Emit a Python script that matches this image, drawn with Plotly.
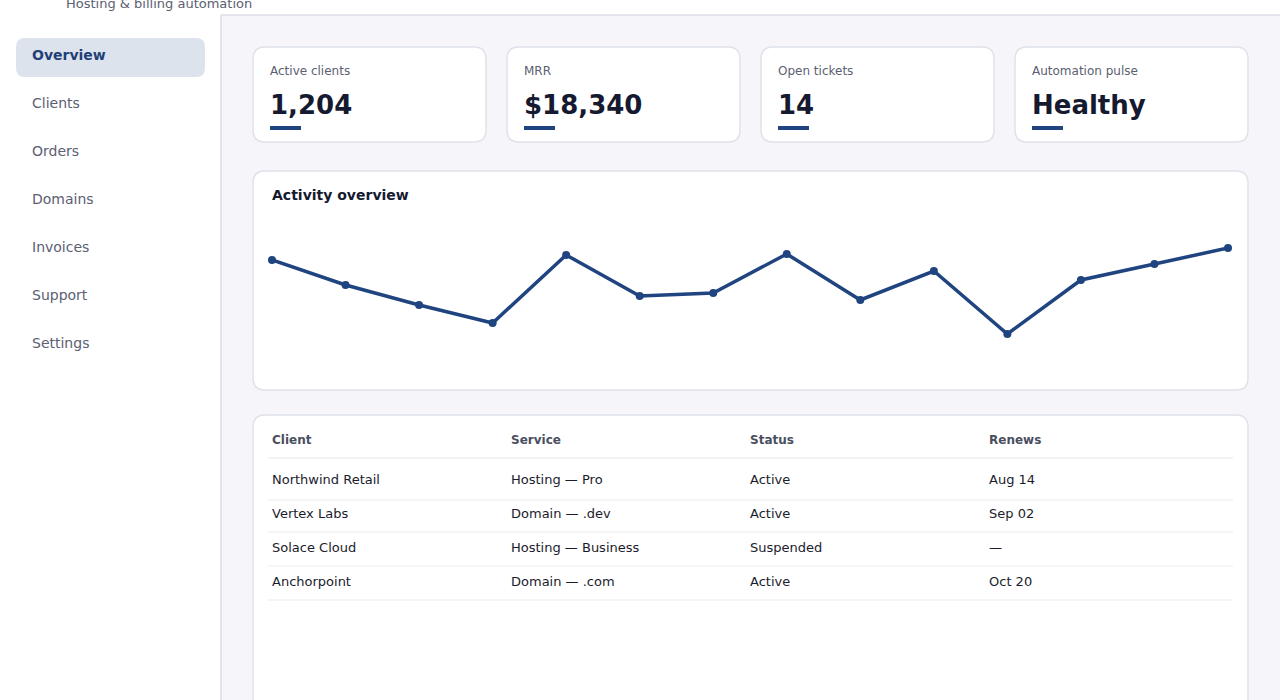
import plotly.graph_objects as go

W, H = 1280, 700

# sidebar
nav_items = ["Overview", "Clients", "Orders", "Domains", "Invoices", "Support", "Settings"]
active_nav = "Overview"
subtitle = "Hosting & billing automation"

# kpi cards
kpi_labels = ["Active clients", "MRR", "Open tickets", "Automation pulse"]
kpi_values = ["1,204", "$18,340", "14", "Healthy"]

# activity series
activity_title = "Activity overview"
activity_x = list(range(14))
activity_y = [140, 115, 95, 77, 145, 104, 107, 146, 100, 129, 66, 120, 136, 152]

# table
table_cols = ["Client", "Service", "Status", "Renews"]
clients = ["Northwind Retail", "Vertex Labs", "Solace Cloud", "Anchorpoint"]
services = ["Hosting — Pro", "Domain — .dev", "Hosting — Business", "Domain — .com"]
statuses = ["Active", "Active", "Suspended", "Active"]
renews = ["Aug 14", "Sep 02", "—", "Oct 20"]

FONT = "DejaVu Sans"
NAVY = "#1f4480"
INK = "#151a30"
MUTED = "#5b6072"
BORDER = "#e0e2eb"
BG = "#f6f6fa"


def X(px):
    return px / W


def Y(py):
    return 1 - py / H


def rr(x0, y0, x1, y1, r):
    pts = [
        ("M", x0 + r, y0), ("L", x1 - r, y0), ("Q", x1, y0, x1, y0 + r),
        ("L", x1, y1 - r), ("Q", x1, y1, x1 - r, y1), ("L", x0 + r, y1),
        ("Q", x0, y1, x0, y1 - r), ("L", x0, y0 + r), ("Q", x0, y0, x0 + r, y0),
    ]
    out = ""
    for p in pts:
        cmd = p[0]
        nums = p[1:]
        coords = []
        for i in range(0, len(nums), 2):
            coords.append("%.5f,%.5f" % (X(nums[i]), Y(nums[i + 1])))
        out += cmd + " " + " ".join(coords) + " "
    return out + "Z"


shapes = []
annotations = []


def rect(x0, y0, x1, y1, fill, line=None, width=0):
    shapes.append(dict(type="rect", xref="paper", yref="paper", layer="below",
                       x0=X(x0), x1=X(x1), y0=Y(y1), y1=Y(y0),
                       fillcolor=fill, line=dict(color=line or fill, width=width)))


def card(x0, y0, x1, y1, r=12):
    shapes.append(dict(type="path", xref="paper", yref="paper", layer="below",
                       path=rr(x0, y0, x1, y1, r), fillcolor="white",
                       line=dict(color=BORDER, width=1.5)))


def hline(x0, x1, y, color, width=1):
    shapes.append(dict(type="line", xref="paper", yref="paper", layer="below",
                       x0=X(x0), x1=X(x1), y0=Y(y), y1=Y(y),
                       line=dict(color=color, width=width)))


def text(px, py, s, size, color, bold=False):
    # annotations pad their box by ~2px, pull back so glyphs start at px
    annotations.append(dict(xref="paper", yref="paper", x=X(px - 2), y=Y(py + 1),
                            xanchor="left", yanchor="middle", showarrow=False,
                            text="<b>%s</b>" % s if bold else s,
                            font=dict(family=FONT, size=size, color=color)))


# page background / header / sidebar
rect(221, 15, W, H, BG)
hline(221, W, 15, "#dcdee6", 1.5)
shapes.append(dict(type="line", xref="paper", yref="paper", layer="below",
                   x0=X(221), x1=X(221), y0=Y(15), y1=Y(H),
                   line=dict(color="#dcdee6", width=1.5)))
text(66, 3, subtitle, 13, MUTED)

for i, item in enumerate(nav_items):
    cy = 54 + 48 * i
    if item == active_nav:
        shapes.append(dict(type="path", xref="paper", yref="paper", layer="below",
                           path=rr(16, 38, 205, 77, 9), fillcolor="#dde3ed",
                           line=dict(width=0)))
        text(32, cy, item, 14, "#1f3f77", bold=True)
    else:
        text(32, cy, item, 14, MUTED)

# kpi cards
for i, (lab, val) in enumerate(zip(kpi_labels, kpi_values)):
    x0 = 253 + 254 * i
    card(x0, 47, x0 + 233, 142)
    text(x0 + 17, 70, lab, 12, MUTED)
    text(x0 + 17, 104, val, 26, INK, bold=True)
    rect(x0 + 17, 126, x0 + 48, 130, NAVY)

# activity card
card(253, 171, 1248, 390)
text(272, 194, activity_title, 14, INK, bold=True)

# table card
card(253, 415, 1248, 760)
col_x = [272, 511, 750, 989]
for cx, c in zip(col_x, table_cols):
    text(cx, 439, c, 12, "#4a4f60", bold=True)
hline(268, 1233, 458, "#e6e7ee", 1)
rows = list(zip(clients, services, statuses, renews))
row_y = [478, 512, 546, 580]
for ry, row in zip(row_y, rows):
    for cx, v in zip(col_x, row):
        text(cx, ry, v, 13, "#1a1c2c")
    hline(268, 1233, ry + 20 + (2 if ry == 478 else 0), "#ececf2", 1)

fig = go.Figure()
fig.add_trace(go.Scatter(
    x=activity_x, y=activity_y, mode="lines+markers",
    line=dict(color=NAVY, width=3.5), marker=dict(color=NAVY, size=8),
    cliponaxis=False, hoverinfo="skip", showlegend=False))

# plot area 215..375 px maps to values 25..185
fig.update_xaxes(domain=[X(272), X(1228)], range=[0, 13], visible=False, fixedrange=True)
fig.update_yaxes(domain=[Y(375), Y(215)], range=[25, 185], visible=False, fixedrange=True)

fig.update_layout(
    width=W, height=H, margin=dict(l=0, r=0, t=0, b=0),
    paper_bgcolor="white", plot_bgcolor="rgba(0,0,0,0)",
    shapes=shapes, annotations=annotations,
    font=dict(family=FONT),
)

fig.write_html("out.html", config={"displayModeBar": False},
               post_script="document.body.style.margin='0';document.body.style.overflow='hidden';")
